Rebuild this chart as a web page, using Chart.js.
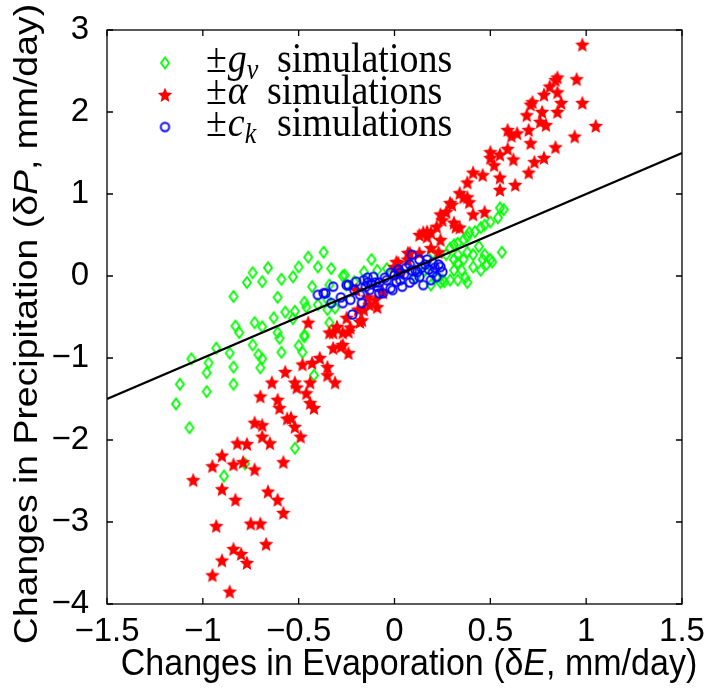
<!DOCTYPE html>
<html>
<head>
<meta charset="utf-8">
<script src="https://cdn.jsdelivr.net/npm/chart.js@4.4.0/dist/chart.umd.min.js"></script>
<style>
html, body { margin: 0; padding: 0; background: #fff; }
#wrap { width: 709px; height: 689px; }
</style>
</head>
<body>
<div id="wrap"><canvas id="chart" width="709" height="689"></canvas></div>
<script>
const xTicks = [-1.5, -1, -0.5, 0, 0.5, 1, 1.5];
const yTicks = [-4, -3, -2, -1, 0, 1, 2, 3];

// ±g_v runs (green diamonds)
const gvPoints = [
  [-0.37,0.29],[-0.45,0.23],[-0.50,0.11],[-0.40,0.11],[-0.66,0.10],[-0.74,0.04],[-0.77,-0.08],[-0.69,-0.07],
  [-0.59,-0.04],[-0.53,-0.01],[-0.84,-0.25],[-0.61,-0.26],[-0.43,-0.13],[-0.47,-0.32],[-0.46,-0.38],[-0.52,-0.43],
  [-0.57,-0.44],[-0.63,-0.51],[-0.53,-0.52],[-0.83,-0.61],[-0.81,-0.69],[-0.73,-0.57],[-0.69,-0.62],[-0.61,-0.69],
  [-0.60,-0.76],[-0.47,-0.74],[-0.93,-0.88],[-0.86,-0.94],[-0.74,-0.84],[-0.71,-0.96],[-0.69,-1.01],[-0.59,-0.93],
  [-0.50,-0.85],[-0.48,-0.93],[-1.06,-1.01],[-0.97,-1.06],[-0.84,-1.11],[-0.70,-1.12],[-0.98,-1.18],[-1.12,-1.32],
  [-0.84,-1.32],[-0.42,-1.21],[-0.98,-1.41],[-1.14,-1.56],[-1.07,-1.85],[-0.52,-2.10],[-0.89,-2.44],[-0.78,-2.29],
  [-0.34,-0.57],[-0.34,-0.11],[-0.26,0.01],[-0.25,-0.11],[-0.21,-0.07],[-0.16,0.05],[-0.12,0.20],[-0.09,0.07],
  [-0.04,0.09],[-0.33,0.09],[-0.27,0.00],[-0.35,-0.29],[-0.35,-0.41],[-0.31,-0.39],[-0.47,-0.72],[-0.40,-0.35],
  [0.55,0.83],[0.54,0.71],[0.50,0.66],[0.47,0.62],[0.45,0.59],[0.42,0.54],[0.39,0.53],[0.38,0.48],
  [0.36,0.44],[0.33,0.40],[0.31,0.38],[0.29,0.34],[0.56,0.29],[0.50,0.20],[0.47,0.26],[0.46,0.20],
  [0.41,0.26],[0.38,0.29],[0.36,0.20],[0.33,0.16],[0.31,0.20],[0.31,0.07],[0.35,0.07],[0.38,-0.08],
  [0.37,-0.02],[0.33,-0.05],[0.29,-0.05],[0.26,-0.07],[0.24,-0.08],[0.22,-0.02],[0.20,0.28],[0.27,0.26],
  [0.41,0.11],[0.45,0.07],[0.48,0.14],[0.51,0.17],[0.44,0.36],[0.33,0.26],[0.57,0.81],[0.25,-0.05],
  [0.16,0.07],[0.11,-0.02],[0.19,-0.11]
];

// ±alpha runs (red stars)
const alphaPoints = [
  [0.98,2.82],[0.85,2.42],[0.84,2.39],[0.95,2.40],[0.81,2.31],[0.78,2.21],[0.85,2.24],[0.98,2.11],
  [0.87,2.11],[0.72,2.12],[0.71,2.09],[0.77,2.00],[0.69,1.96],[0.85,2.00],[0.76,1.88],[0.79,1.84],
  [1.05,1.83],[0.59,1.78],[0.64,1.74],[0.61,1.71],[0.70,1.78],[0.94,1.70],[0.71,1.62],[0.84,1.57],
  [0.50,1.51],[0.59,1.55],[0.55,1.48],[0.62,1.42],[0.78,1.44],[0.73,1.39],[0.52,1.35],[0.50,1.44],
  [0.70,1.26],[0.41,1.26],[0.46,1.23],[0.55,1.20],[0.38,1.14],[0.63,1.11],[0.55,1.05],[0.34,1.01],
  [0.38,0.96],[0.39,0.90],[0.29,0.89],[0.27,0.78],[0.41,0.75],[0.47,0.78],[0.25,0.68],[0.32,0.60],
  [0.36,0.96],[0.30,0.87],[0.24,0.75],[0.22,0.60],[0.31,0.65],[0.34,0.59],[0.17,0.48],[0.24,0.44],
  [0.19,0.34],[0.13,0.28],[0.23,0.29],[0.19,0.53],[0.15,0.53],[0.08,0.28],[0.07,0.20],[0.02,0.16],
  [0.00,0.11],[0.17,0.54],[0.13,0.50],[0.07,0.28],[0.01,0.17],[0.03,0.05],[-0.06,-0.20],
  [-0.10,-0.29],[-0.09,-0.38],[-0.14,-0.26],[-0.17,-0.54],[-0.25,-0.51],[-0.23,-0.63],[-0.30,-0.62],[-0.32,-0.69],
  [-0.27,-0.69],[-0.13,-0.35],[-0.19,-0.41],[-0.20,-0.17],[-0.16,-0.41],[-0.45,-0.57],[-0.34,-0.69],[-0.24,-0.68],
  [-0.18,-0.56],[-0.27,-0.84],[-0.32,-0.88],[-0.24,-0.94],[-0.28,-0.86],[-0.39,-1.00],[-0.43,-1.06],[-0.48,-1.08],
  [-0.35,-1.11],[-0.35,-1.21],[-0.31,-1.30],[-0.44,-1.30],[-0.52,-1.30],[-0.57,-1.17],[-0.64,-1.30],[-0.51,-1.36],
  [-0.46,-1.43],[-0.44,-1.55],[-0.42,-1.61],[-0.70,-1.47],[-0.61,-1.51],[-0.60,-1.61],[-0.54,-1.73],[-0.73,-1.79],
  [-0.69,-1.82],[-0.69,-1.96],[-0.65,-2.04],[-0.49,-1.96],[-0.52,-1.84],[-0.82,-2.04],[-0.77,-2.05],[-0.90,-2.19],
  [-0.95,-2.32],[-0.84,-2.30],[-0.79,-2.27],[-0.73,-2.36],[-0.58,-2.27],[-1.05,-2.49],[-0.90,-2.60],[-0.83,-2.73],
  [-0.66,-2.63],[-0.61,-2.73],[-0.58,-2.89],[-0.93,-3.05],[-0.75,-3.02],[-0.70,-3.02],[-0.67,-3.27],[-0.84,-3.33],
  [-0.80,-3.39],[-0.90,-3.47],[-0.77,-3.50],[-0.95,-3.65],[-0.86,-3.85],[-0.56,-1.74]
];

// ±c_k runs (blue circles)
const ckPoints = [
  [-0.40,-0.23],[-0.37,-0.21],[-0.32,-0.13],[-0.22,-0.47],[-0.17,-0.33],[-0.25,-0.11],[0.09,0.26],[0.17,0.20],
  [0.13,-0.01],[0.08,-0.08],[0.04,-0.13],[-0.01,-0.17],[-0.06,-0.21],[-0.11,-0.01],[-0.14,-0.02],[-0.20,-0.07],
  [-0.24,-0.11],[-0.28,-0.26],[-0.36,-0.21],[-0.33,-0.33],[-0.08,-0.21],[0.03,0.04],[-0.04,-0.05],[-0.09,-0.13],
  [-0.23,-0.29],[-0.27,-0.33],[-0.02,0.04],[-0.13,-0.17],[-0.08,-0.08],[0.01,-0.07],[0.13,0.20],[0.20,0.16],
  [0.24,0.11],[0.25,0.05],[0.22,-0.01],[0.19,-0.05],[0.15,-0.11],[0.11,0.07],[0.08,0.14],[0.06,0.10],
  [0.00,0.01],[-0.05,-0.02],[-0.10,-0.08],[-0.15,-0.13],[-0.21,-0.17],[-0.02,-0.15],[0.09,0.07],[0.16,0.14],
  [0.21,0.10],[0.03,-0.05],[-0.18,-0.23],[-0.14,-0.08],[0.05,0.02],[0.12,0.05],[0.18,0.08],[-0.12,-0.10],
  [0.02,0.08],[0.14,0.10],[0.20,0.04],[0.23,0.14],[-0.16,-0.05],[0.10,-0.04]
];

// 1:1 reference line
const fitX = [-1.5, 1.5];
const fitY = [-1.5, 1.5];

const legendItems = [
  { sym: 'g', sub: 'v', text: 'simulations' },
  { sym: '\u03b1', sub: '', text: 'simulations' },
  { sym: 'c', sub: 'k', text: 'simulations' }
];

function toXY(list) {
  return list.map(p => ({ x: p[0], y: p[1] }));
}

// marker images
function makeStar(r, color) {
  const c = document.createElement('canvas');
  const s = Math.ceil(r * 2 + 3);
  c.width = s; c.height = s;
  const g = c.getContext('2d');
  g.translate(s / 2, s / 2 + 0.5);
  g.beginPath();
  for (let i = 0; i < 10; i++) {
    const rad = i % 2 ? r * 0.45 : r;
    const a = -Math.PI / 2 + i * Math.PI / 5;
    g.lineTo(rad * Math.cos(a), rad * Math.sin(a) * 1.08);
  }
  g.closePath();
  g.fillStyle = color;
  g.fill();
  return c;
}

function makeDiamond(w, h, color) {
  const c = document.createElement('canvas');
  c.width = w + 4; c.height = h + 4;
  const g = c.getContext('2d');
  const cx = c.width / 2, cy = c.height / 2;
  g.beginPath();
  g.moveTo(cx, cy - h / 2);
  g.lineTo(cx + w / 2, cy);
  g.lineTo(cx, cy + h / 2);
  g.lineTo(cx - w / 2, cy);
  g.closePath();
  g.strokeStyle = color;
  g.lineWidth = 1.9;
  g.stroke();
  return c;
}

function makeCircle(r, color) {
  const c = document.createElement('canvas');
  const s = Math.ceil(r * 2 + 4);
  c.width = s; c.height = s;
  const g = c.getContext('2d');
  g.beginPath();
  g.arc(s / 2, s / 2, r, 0, Math.PI * 2);
  g.strokeStyle = color;
  g.lineWidth = 1.9;
  g.stroke();
  return c;
}

const starImg = makeStar(7.5, '#ff0000');
const diamondImg = makeDiamond(8, 11, '#00ff00');
const circleImg = makeCircle(4.2, '#0000ff');

function fmt(v) {
  return v < 0 ? '\u2212' + Math.abs(v) : String(v);
}

// box with inward ticks on all four sides
const frame = {
  id: 'frame',
  afterDraw(chart) {
    const { ctx, chartArea: a, scales } = chart;
    ctx.save();
    ctx.strokeStyle = '#000';
    ctx.lineWidth = 1.3;
    ctx.strokeRect(a.left, a.top, a.right - a.left, a.bottom - a.top);
    ctx.beginPath();
    xTicks.forEach(v => {
      const px = scales.x.getPixelForValue(v);
      ctx.moveTo(px, a.bottom); ctx.lineTo(px, a.bottom - 6);
      ctx.moveTo(px, a.top); ctx.lineTo(px, a.top + 6);
    });
    yTicks.forEach(v => {
      const py = scales.y.getPixelForValue(v);
      ctx.moveTo(a.left, py); ctx.lineTo(a.left + 6, py);
      ctx.moveTo(a.right, py); ctx.lineTo(a.right - 6, py);
    });
    ctx.stroke();
    ctx.restore();
  }
};

// legend in the upper left corner, math-style labels
const mathLegend = {
  id: 'mathLegend',
  afterDraw(chart) {
    const ctx = chart.ctx;
    const imgs = [diamondImg, starImg, circleImg];
    const rows = [63, 95, 127];
    const textX = [277, 267, 277];
    ctx.save();
    ctx.fillStyle = '#000';
    ctx.textBaseline = 'alphabetic';
    legendItems.forEach((it, i) => {
      const img = imgs[i];
      ctx.drawImage(img, 165 - img.width / 2, rows[i] - img.height / 2);
      const base = rows[i] + 9;
      ctx.save();
      ctx.translate(0, base);
      ctx.scale(1, 1.1);
      let x = 206;
      ctx.font = '38px "Liberation Serif"';
      ctx.fillText('\u00b1', x, 0);
      x += ctx.measureText('\u00b1').width + 1;
      ctx.font = 'italic 38px "Liberation Serif"';
      ctx.fillText(it.sym, x, 0);
      x += ctx.measureText(it.sym).width;
      if (it.sub) {
        ctx.font = 'italic 26px "Liberation Serif"';
        ctx.fillText(it.sub, x, 6);
      }
      ctx.font = '38px "Liberation Serif"';
      ctx.fillText(it.text, textX[i], 0);
      ctx.restore();
    });
    ctx.restore();
  }
};

// axis titles with italic symbol
function drawParts(ctx, parts, size) {
  let w = 0;
  parts.forEach(p => {
    ctx.font = (p.it ? 'italic ' : '') + size + 'px "Liberation Sans"';
    w += ctx.measureText(p.t).width;
  });
  let x = -w / 2;
  parts.forEach(p => {
    ctx.font = (p.it ? 'italic ' : '') + size + 'px "Liberation Sans"';
    ctx.fillText(p.t, x, 0);
    x += ctx.measureText(p.t).width;
  });
}

const axisTitles = {
  id: 'axisTitles',
  afterDraw(chart) {
    const ctx = chart.ctx;
    ctx.save();
    ctx.fillStyle = '#000';
    ctx.textBaseline = 'alphabetic';
    ctx.save();
    ctx.translate(409, 675);
    ctx.scale(1, 1.1);
    drawParts(ctx, [{ t: 'Changes in Evaporation (\u03b4' }, { t: 'E', it: true }, { t: ', mm/day)' }], 34);
    ctx.restore();
    ctx.save();
    ctx.translate(37, 324);
    ctx.rotate(-Math.PI / 2);
    ctx.scale(1.1, 1);
    drawParts(ctx, [{ t: 'Changes in Precipitation (\u03b4' }, { t: 'P', it: true }, { t: ', mm/day)' }], 34);
    ctx.restore();
    ctx.restore();
  }
};

const tickFont = { family: 'Liberation Sans', size: 33 };

new Chart(document.getElementById('chart').getContext('2d'), {
  type: 'scatter',
  data: {
    datasets: [
      {
        label: 'fit',
        data: fitX.map((x, i) => ({ x: x, y: fitY[i] })),
        showLine: true,
        borderColor: '#000',
        borderWidth: 2.2,
        pointRadius: 0
      },
      {
        label: '\u00b1c_k simulations',
        data: toXY(ckPoints),
        pointStyle: circleImg,
        pointRadius: 4
      },
      {
        label: '\u00b1\u03b1 simulations',
        data: toXY(alphaPoints),
        pointStyle: starImg,
        pointRadius: 7
      },
      {
        label: '\u00b1g_v simulations',
        data: toXY(gvPoints),
        pointStyle: diamondImg,
        pointRadius: 5
      }
    ]
  },
  options: {
    responsive: false,
    animation: false,
    layout: { padding: { top: 30, right: 27, left: 0, bottom: 0 } },
    plugins: {
      legend: { display: false },
      tooltip: { enabled: false }
    },
    scales: {
      x: {
        type: 'linear',
        min: -1.5,
        max: 1.5,
        afterBuildTicks: s => { s.ticks = xTicks.map(v => ({ value: v })); },
        afterFit: s => { s.height = 85; s.paddingLeft = 0; s.paddingRight = 0; },
        grid: { display: false, drawTicks: false },
        border: { display: false },
        ticks: { font: tickFont, color: '#000', padding: 8, maxRotation: 0, autoSkip: false, callback: fmt }
      },
      y: {
        type: 'linear',
        min: -4,
        max: 3,
        afterBuildTicks: s => { s.ticks = yTicks.map(v => ({ value: v })); },
        afterFit: s => { s.width = 107; s.paddingTop = 0; s.paddingBottom = 0; },
        grid: { display: false, drawTicks: false },
        border: { display: false },
        ticks: { font: tickFont, color: '#000', padding: 18, autoSkip: false, callback: fmt }
      }
    }
  },
  plugins: [frame, mathLegend, axisTitles]
});
</script>
</body>
</html>
